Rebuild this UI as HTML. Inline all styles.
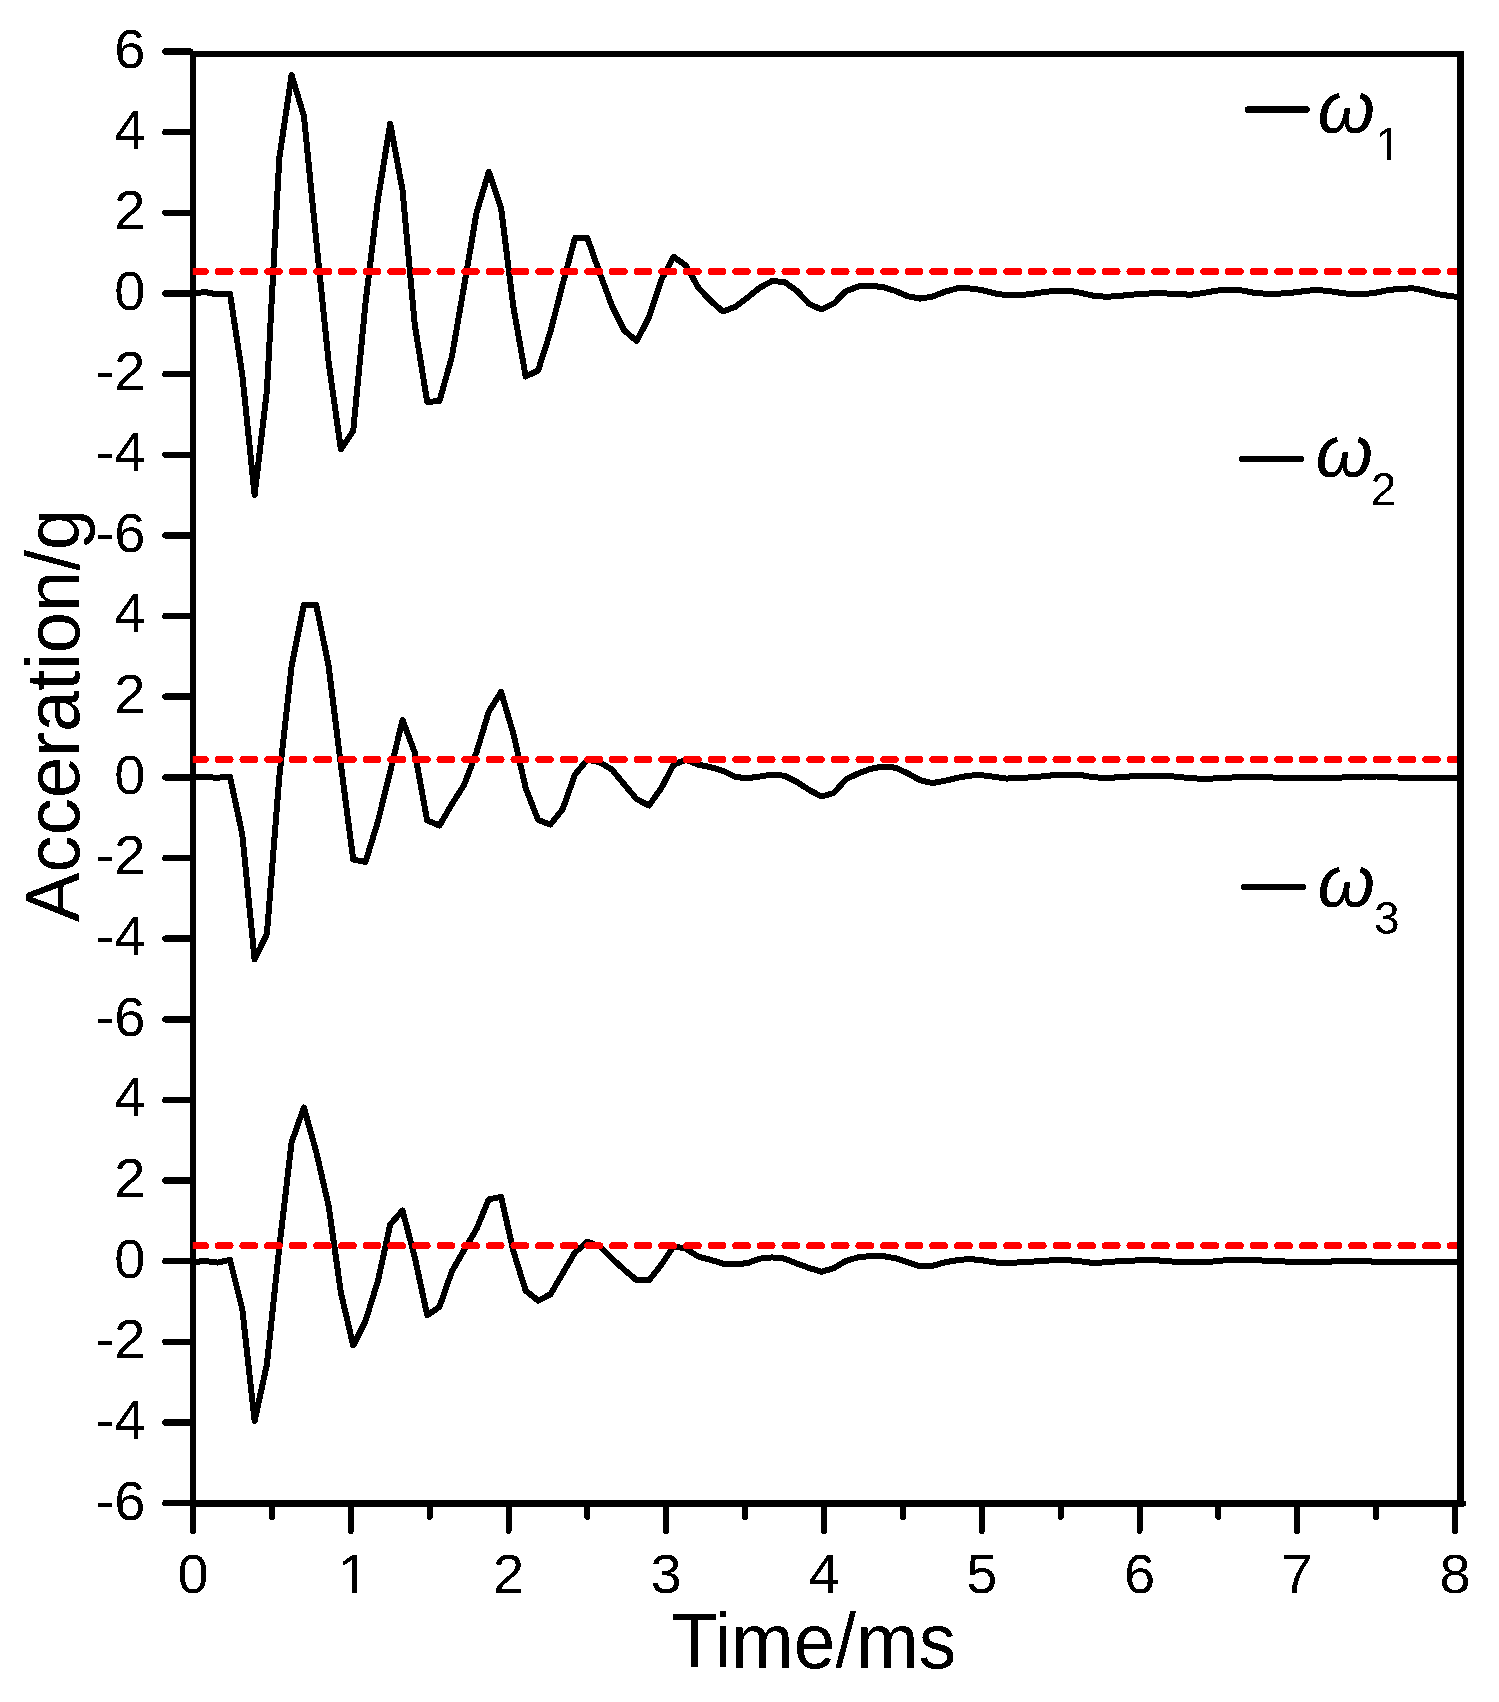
<!DOCTYPE html><html><head><meta charset="utf-8"><title>Acceleration chart</title><style>html,body{margin:0;padding:0;background:#fff;}svg{display:block;}text{font-family:"Liberation Sans",Arial,sans-serif;fill:#000;}</style></head><body>
<svg width="1499" height="1702" viewBox="0 0 1499 1702" shape-rendering="crispEdges">
<rect x="0" y="0" width="1499" height="1702" fill="#fff"/>
<defs><clipPath id="one1"><rect x="332.86" y="1536.50" width="56.00" height="50.68"/><rect x="351.92" y="1536.50" width="4.98" height="58.00"/></clipPath><clipPath id="one2"><rect x="1370.36" y="113.80" width="46.00" height="41.63"/><rect x="1386.91" y="113.80" width="4.09" height="48.00"/></clipPath></defs>
<defs><clipPath id="plot"><rect x="193" y="54" width="1264" height="1449.5"/></clipPath><filter id="alias" x="0" y="0" width="1499" height="1702" filterUnits="userSpaceOnUse" color-interpolation-filters="sRGB"><feComponentTransfer><feFuncA type="discrete" tableValues="0 1"/></feComponentTransfer></filter><clipPath id="redclip"><rect x="192.8" y="54" width="1264.2" height="1449.5"/></clipPath></defs>
<polyline points="193.0,293.5 205.3,292.0 217.6,294.5 230.0,293.5 242.3,375.0 254.6,495.0 266.9,391.0 279.3,158.0 291.6,75.0 303.9,116.0 316.2,240.0 328.6,362.0 340.9,449.5 353.2,431.0 365.5,303.0 377.9,200.0 390.2,123.5 402.5,190.0 414.8,325.0 427.2,402.0 439.5,401.0 451.8,357.0 464.1,286.0 476.5,213.0 488.8,171.7 501.1,208.0 513.4,307.0 525.7,376.5 538.1,370.5 550.4,332.0 562.7,284.0 575.0,238.0 587.4,238.0 599.7,273.0 612.0,306.0 624.3,330.5 636.7,341.0 649.0,317.3 661.3,280.0 673.6,256.8 686.0,265.6 698.3,287.6 710.6,300.8 722.9,311.5 735.3,306.8 747.6,297.5 759.9,287.6 772.2,281.0 784.6,282.1 796.9,290.9 809.2,304.0 821.5,309.5 833.8,303.5 846.2,291.0 858.5,286.5 870.8,285.9 883.1,287.0 895.5,291.0 907.8,296.3 920.1,298.6 932.4,296.7 944.8,291.8 957.1,288.4 969.4,288.4 981.7,290.0 994.1,293.3 1006.4,295.2 1018.7,295.2 1031.0,294.0 1043.4,292.2 1055.7,290.6 1068.0,290.6 1080.3,292.7 1092.7,295.6 1105.0,296.7 1117.3,296.3 1129.6,294.7 1141.9,294.2 1154.3,293.0 1166.6,293.5 1178.9,294.2 1191.2,294.7 1203.6,293.0 1215.9,290.7 1228.2,289.5 1240.5,290.2 1252.9,292.6 1265.2,293.7 1277.5,293.7 1289.8,293.0 1302.2,291.4 1314.5,290.0 1326.8,290.7 1339.1,292.6 1351.5,294.2 1363.8,294.2 1376.1,292.6 1388.4,290.0 1400.8,288.8 1413.1,288.3 1425.4,290.7 1437.7,294.2 1450.0,296.0 1462.4,297.7" fill="none" stroke="#000" stroke-width="6" stroke-linejoin="round" stroke-linecap="butt" clip-path="url(#plot)"/>
<polyline points="193.0,777.2 205.3,777.2 217.6,777.7 230.0,776.7 242.3,834.5 254.6,959.5 266.9,934.0 279.3,777.0 291.6,666.0 303.9,604.7 316.2,604.7 328.6,666.0 340.9,764.8 353.2,859.5 365.5,862.0 377.9,821.6 390.2,771.5 402.5,720.0 414.8,752.5 427.2,820.5 439.5,825.5 451.8,804.3 464.1,785.0 476.5,752.3 488.8,711.6 501.1,692.0 513.4,733.8 525.7,788.1 538.1,820.0 550.4,824.5 562.7,809.1 575.0,774.5 587.4,759.7 599.7,762.2 612.0,769.6 624.3,784.4 636.7,799.2 649.0,805.5 661.3,788.1 673.6,764.7 686.0,759.7 698.3,764.7 710.6,767.1 722.9,770.8 735.3,777.0 747.6,778.2 759.9,776.5 772.2,774.5 784.6,775.8 796.9,781.9 809.2,790.0 821.5,796.5 833.8,793.0 846.2,779.0 858.5,773.4 870.8,768.8 883.1,766.5 895.5,767.7 907.8,773.4 920.1,780.2 932.4,783.1 944.8,780.8 957.1,777.9 969.4,775.6 981.7,775.2 994.1,776.8 1006.4,778.6 1018.7,777.9 1031.0,777.4 1043.4,776.3 1055.7,774.9 1068.0,774.5 1080.3,774.9 1092.7,777.2 1105.0,777.9 1117.3,777.4 1129.6,776.5 1141.9,776.0 1154.3,775.8 1166.6,775.8 1178.9,777.0 1191.2,778.2 1203.6,778.9 1215.9,778.4 1228.2,777.7 1240.5,777.0 1252.9,777.0 1265.2,777.2 1277.5,777.7 1289.8,777.7 1302.2,777.7 1314.5,777.7 1326.8,777.7 1339.1,777.7 1351.5,776.8 1363.8,776.5 1376.1,776.5 1388.4,776.8 1400.8,777.7 1413.1,777.7 1425.4,777.7 1437.7,777.7 1450.0,777.7 1462.4,777.7" fill="none" stroke="#000" stroke-width="6" stroke-linejoin="round" stroke-linecap="butt" clip-path="url(#plot)"/>
<polyline points="193.0,1262.1 205.3,1261.0 217.6,1262.6 230.0,1259.8 242.3,1309.2 254.6,1421.0 266.9,1364.4 279.3,1247.6 291.6,1142.3 303.9,1107.5 316.2,1151.7 328.6,1205.7 340.9,1292.7 353.2,1345.5 365.5,1320.9 377.9,1281.0 390.2,1224.5 402.5,1210.5 414.8,1257.4 427.2,1315.3 439.5,1306.8 451.8,1271.5 464.1,1250.0 476.5,1229.0 488.8,1199.4 501.1,1196.9 513.4,1251.2 525.7,1290.7 538.1,1300.6 550.4,1294.4 562.7,1273.4 575.0,1252.4 587.4,1241.8 599.7,1246.3 612.0,1258.6 624.3,1269.7 636.7,1280.3 649.0,1280.3 661.3,1264.8 673.6,1246.3 686.0,1248.7 698.3,1256.6 710.6,1259.8 722.9,1263.6 735.3,1264.3 747.6,1263.1 759.9,1258.6 772.2,1257.4 784.6,1258.6 796.9,1263.6 809.2,1268.0 821.5,1271.8 833.8,1268.1 846.2,1260.8 858.5,1257.2 870.8,1256.1 883.1,1256.1 895.5,1258.3 907.8,1262.4 920.1,1266.3 932.4,1265.8 944.8,1262.4 957.1,1260.2 969.4,1259.0 981.7,1260.2 994.1,1262.4 1006.4,1263.1 1018.7,1262.4 1031.0,1261.7 1043.4,1260.8 1055.7,1260.2 1068.0,1260.2 1080.3,1261.3 1092.7,1262.9 1105.0,1262.4 1117.3,1261.3 1129.6,1260.9 1141.9,1260.0 1154.3,1260.0 1166.6,1261.2 1178.9,1261.9 1191.2,1262.4 1203.6,1262.4 1215.9,1261.2 1228.2,1260.0 1240.5,1260.0 1252.9,1260.0 1265.2,1260.7 1277.5,1261.2 1289.8,1261.7 1302.2,1261.7 1314.5,1261.7 1326.8,1261.7 1339.1,1261.2 1351.5,1261.2 1363.8,1261.2 1376.1,1261.7 1388.4,1261.7 1400.8,1261.7 1413.1,1261.7 1425.4,1261.7 1437.7,1261.7 1450.0,1261.7 1462.4,1261.7" fill="none" stroke="#000" stroke-width="6" stroke-linejoin="round" stroke-linecap="butt" clip-path="url(#plot)"/>
<g stroke="#000" fill="none" stroke-linecap="butt">
<line x1="193" y1="51" x2="193" y2="1507" stroke-width="6"/>
<line x1="190" y1="54" x2="1464" y2="54" stroke-width="6"/>
<line x1="1460.5" y1="51" x2="1460.5" y2="1507" stroke-width="7"/>
<line x1="190" y1="1503.5" x2="1464" y2="1503.5" stroke-width="7"/>
</g>
<rect x="1463" y="1501.3" width="3" height="4.4" fill="#000"/>
<g stroke="#000" stroke-width="6.5" stroke-linecap="round">
<line x1="165.5" y1="51.5" x2="190" y2="51.5"/>
<line x1="165.5" y1="132.2" x2="190" y2="132.2"/>
<line x1="165.5" y1="212.8" x2="190" y2="212.8"/>
<line x1="165.5" y1="293.5" x2="190" y2="293.5"/>
<line x1="165.5" y1="374.1" x2="190" y2="374.1"/>
<line x1="165.5" y1="454.8" x2="190" y2="454.8"/>
<line x1="165.5" y1="535.4" x2="190" y2="535.4"/>
<line x1="165.5" y1="616.1" x2="190" y2="616.1"/>
<line x1="165.5" y1="696.7" x2="190" y2="696.7"/>
<line x1="165.5" y1="777.4" x2="190" y2="777.4"/>
<line x1="165.5" y1="858.0" x2="190" y2="858.0"/>
<line x1="165.5" y1="938.7" x2="190" y2="938.7"/>
<line x1="165.5" y1="1019.3" x2="190" y2="1019.3"/>
<line x1="165.5" y1="1100.0" x2="190" y2="1100.0"/>
<line x1="165.5" y1="1180.6" x2="190" y2="1180.6"/>
<line x1="165.5" y1="1261.2" x2="190" y2="1261.2"/>
<line x1="165.5" y1="1341.9" x2="190" y2="1341.9"/>
<line x1="165.5" y1="1422.6" x2="190" y2="1422.6"/>
<line x1="165.5" y1="1503.2" x2="190" y2="1503.2"/>
</g>
<g stroke="#000" stroke-width="6" stroke-linecap="round">
<line x1="193.0" y1="1504" x2="193.0" y2="1531"/>
<line x1="350.8" y1="1504" x2="350.8" y2="1531"/>
<line x1="508.5" y1="1504" x2="508.5" y2="1531"/>
<line x1="666.2" y1="1504" x2="666.2" y2="1531"/>
<line x1="824.0" y1="1504" x2="824.0" y2="1531"/>
<line x1="981.8" y1="1504" x2="981.8" y2="1531"/>
<line x1="1139.5" y1="1504" x2="1139.5" y2="1531"/>
<line x1="1297.2" y1="1504" x2="1297.2" y2="1531"/>
<line x1="1455.0" y1="1504" x2="1455.0" y2="1531"/>
<line x1="271.9" y1="1504" x2="271.9" y2="1517"/>
<line x1="429.6" y1="1504" x2="429.6" y2="1517"/>
<line x1="587.4" y1="1504" x2="587.4" y2="1517"/>
<line x1="745.1" y1="1504" x2="745.1" y2="1517"/>
<line x1="902.9" y1="1504" x2="902.9" y2="1517"/>
<line x1="1060.6" y1="1504" x2="1060.6" y2="1517"/>
<line x1="1218.4" y1="1504" x2="1218.4" y2="1517"/>
<line x1="1376.1" y1="1504" x2="1376.1" y2="1517"/>
</g>
<line x1="193.6" y1="271.5" x2="1460" y2="271.5" stroke="#ff0000" stroke-width="7" stroke-dasharray="11.8 12.84" stroke-linecap="round" clip-path="url(#redclip)"/>
<line x1="193.6" y1="759.5" x2="1460" y2="759.5" stroke="#ff0000" stroke-width="7" stroke-dasharray="11.8 12.84" stroke-linecap="round" clip-path="url(#redclip)"/>
<line x1="193.6" y1="1245.7" x2="1460" y2="1245.7" stroke="#ff0000" stroke-width="7" stroke-dasharray="11.8 12.84" stroke-linecap="round" clip-path="url(#redclip)"/>
<g filter="url(#alias)">
<g font-size="56" text-anchor="end">
<text x="145.5" y="67.8">6</text>
<text x="145.5" y="148.5">4</text>
<text x="145.5" y="229.1">2</text>
<text x="145.5" y="309.8">0</text>
<text x="145.5" y="390.4">-2</text>
<text x="145.5" y="471.1">-4</text>
<text x="145.5" y="551.7">-6</text>
<text x="145.5" y="632.4">4</text>
<text x="145.5" y="713.0">2</text>
<text x="145.5" y="793.6">0</text>
<text x="145.5" y="874.3">-2</text>
<text x="145.5" y="955.0">-4</text>
<text x="145.5" y="1035.6">-6</text>
<text x="145.5" y="1116.2">4</text>
<text x="145.5" y="1196.9">2</text>
<text x="145.5" y="1277.5">0</text>
<text x="145.5" y="1358.2">-2</text>
<text x="145.5" y="1438.9">-4</text>
<text x="145.5" y="1519.5">-6</text>
</g>
<g font-size="56" text-anchor="middle">
<text x="193.0" y="1592.5">0</text>
<text x="337.9" y="1592.5" text-anchor="start" clip-path="url(#one1)">1</text>
<text x="508.5" y="1592.5">2</text>
<text x="666.2" y="1592.5">3</text>
<text x="824.0" y="1592.5">4</text>
<text x="981.8" y="1592.5">5</text>
<text x="1139.5" y="1592.5">6</text>
<text x="1297.2" y="1592.5">7</text>
<text x="1455.0" y="1592.5">8</text>
</g>
<text transform="translate(671.5,1667.8) scale(1,1.025)" x="0" y="0" font-size="75">Time/ms</text>
<text transform="translate(79,922.2) rotate(-90) scale(0.984,1.015)" x="0" y="0" font-size="75.6">Acceration/g</text>
<line x1="1248.0" y1="109.5" x2="1306.8" y2="109.5" stroke="#000" stroke-width="6.5" stroke-linecap="round"/>
<text x="1317.6" y="132.5" font-size="74" font-style="italic">ω</text>
<text x="1375.4" y="159.8" font-size="46" clip-path="url(#one2)">1</text>
<line x1="1242.0" y1="459.0" x2="1301.0" y2="459.0" stroke="#000" stroke-width="6.5" stroke-linecap="round"/>
<text x="1315.6" y="477.4" font-size="74" font-style="italic">ω</text>
<text x="1370.8" y="504.7" font-size="46">2</text>
<line x1="1244.0" y1="887.0" x2="1302.7" y2="887.0" stroke="#000" stroke-width="6.5" stroke-linecap="round"/>
<text x="1317.6" y="906.6" font-size="74" font-style="italic">ω</text>
<text x="1374.0" y="934.0" font-size="46">3</text>
</g>
</svg></body></html>
